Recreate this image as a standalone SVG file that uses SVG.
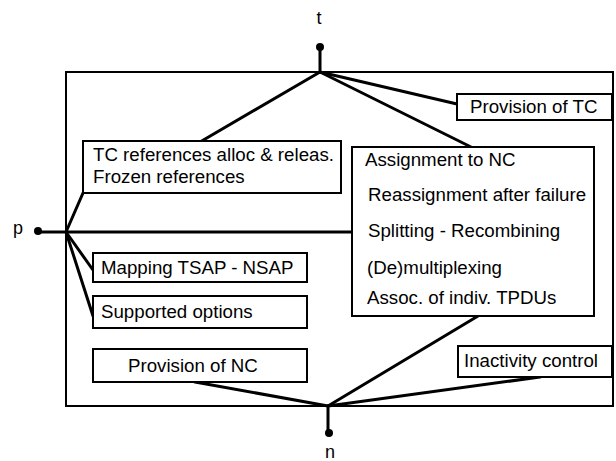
<svg xmlns="http://www.w3.org/2000/svg" width="616" height="461" viewBox="0 0 616 461">
  <style>
    .frame { fill: none; stroke: #000; stroke-width: 2; }
    .box { fill: #fff; stroke: #000; stroke-width: 2; }
    .wire { fill: none; stroke: #000; stroke-width: 3; stroke-linecap: round; }
    .pin { fill: #000; }
    text { font-family: "Liberation Sans", Arial, Helvetica, sans-serif; font-size: 18.7px; fill: #000; }
    .port { font-size: 18px; text-anchor: middle; }
  </style>
  <rect width="616" height="461" fill="#fff"/>

  <!-- entity boundary -->
  <rect class="frame" x="66" y="72" width="547" height="334"/>

  <!-- connectors -->
  <g id="connectors">
    <line class="wire" x1="320" y1="47" x2="320" y2="72"/>
    <line class="wire" x1="320" y1="72" x2="200" y2="142"/>
    <line class="wire" x1="320" y1="72" x2="471" y2="147"/>
    <line class="wire" x1="320" y1="72" x2="457" y2="104"/>
    <line class="wire" x1="38" y1="232" x2="352" y2="232"/>
    <line class="wire" x1="66" y1="232" x2="83" y2="193"/>
    <line class="wire" x1="66" y1="232" x2="93" y2="270"/>
    <line class="wire" x1="66" y1="232" x2="93" y2="316"/>
    <line class="wire" x1="328" y1="406" x2="328" y2="433"/>
    <line class="wire" x1="328" y1="406" x2="195" y2="382"/>
    <line class="wire" x1="328" y1="406" x2="478" y2="316"/>
    <line class="wire" x1="328" y1="406" x2="540" y2="377"/>
  </g>

  <!-- access points -->
  <g id="port-t">
    <circle class="pin" cx="320" cy="47" r="4"/>
    <text class="port" x="319" y="24">t</text>
  </g>
  <g id="port-p">
    <circle class="pin" cx="38" cy="231" r="4"/>
    <text class="port" x="18" y="234">p</text>
  </g>
  <g id="port-n">
    <circle class="pin" cx="329" cy="433" r="4"/>
    <text class="port" x="330" y="458">n</text>
  </g>

  <!-- functions -->
  <g id="provision-tc">
    <rect class="box" x="457" y="94" width="155" height="26"/>
    <text x="470" y="113">Provision of TC</text>
  </g>
  <g id="tc-references">
    <rect class="box" x="83" y="141" width="258" height="52"/>
    <text x="93" y="161">TC references alloc &amp; releas.</text>
    <text x="93" y="183">Frozen references</text>
  </g>
  <g id="assignment">
    <rect class="box" x="352" y="147" width="242" height="169"/>
    <text x="365" y="166">Assignment to NC</text>
    <text x="368" y="201">Reassignment after failure</text>
    <text x="368" y="237">Splitting - Recombining</text>
    <text x="367" y="274">(De)multiplexing</text>
    <text x="367" y="304">Assoc. of indiv. TPDUs</text>
  </g>
  <g id="mapping">
    <rect class="box" x="93" y="253" width="214" height="29"/>
    <text x="101" y="274">Mapping TSAP - NSAP</text>
  </g>
  <g id="options">
    <rect class="box" x="93" y="296" width="214" height="32"/>
    <text x="101" y="318">Supported options</text>
  </g>
  <g id="provision-nc">
    <rect class="box" x="93" y="349" width="214" height="33"/>
    <text x="128" y="372">Provision of NC</text>
  </g>
  <g id="inactivity">
    <rect class="box" x="458" y="346" width="154" height="31"/>
    <text x="464" y="367">Inactivity control</text>
  </g>
</svg>
